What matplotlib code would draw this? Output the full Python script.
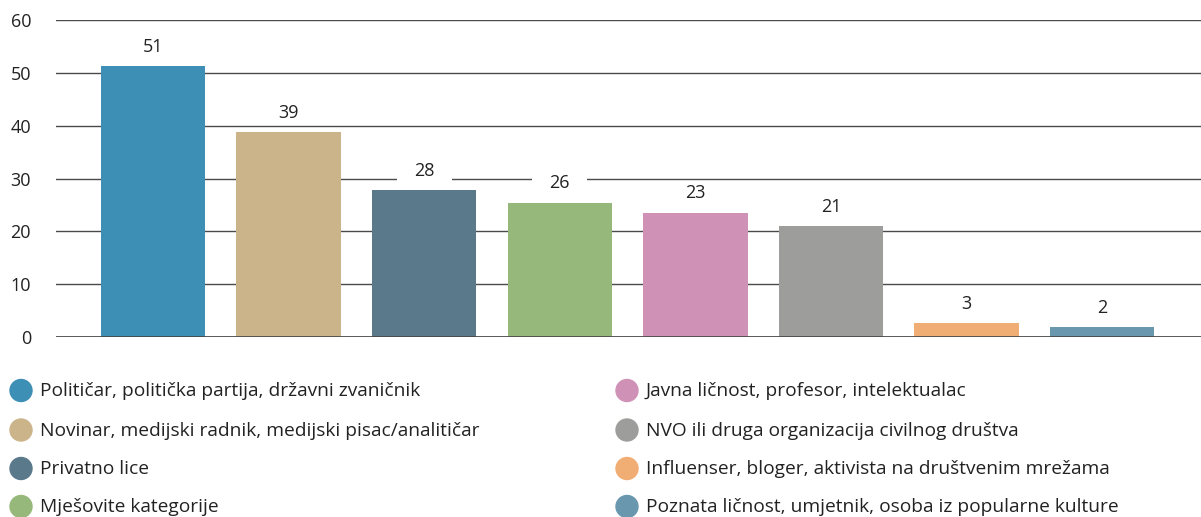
import matplotlib.pyplot as plt
from matplotlib.patches import Ellipse

plt.rcParams['font.family'] = ['Open Sans', 'DejaVu Sans']

categories = ['Političar, politička partija, državni zvaničnik',
              'Novinar, medijski radnik, medijski pisac/analitičar',
              'Privatno lice',
              'Mješovite kategorije',
              'Javna ličnost, profesor, intelektualac',
              'NVO ili druga organizacija civilnog društva',
              'Influenser, bloger, aktivista na društvenim mrežama',
              'Poznata ličnost, umjetnik, osoba iz popularne kulture']
values = [51.2, 38.8, 27.8, 25.4, 23.5, 21.0, 2.6, 1.9]
value_labels = ['51', '39', '28', '26', '23', '21', '3', '2']
colors = ['#3E8FB5', '#CBB38A', '#5A7A8C', '#97B87B',
          '#CF92B6', '#9D9D9B', '#F0AD74', '#6897AE']
yticks = [0, 10, 20, 30, 40, 50, 60]

W, H = 1201, 517
fig = plt.figure(figsize=(W / 100, H / 100), dpi=100)
ax = fig.add_axes([56 / W, 1 - 337 / H, 1 - 56 / W, (337 - 20) / H])
ax.set_axisbelow(True)

x = list(range(len(values)))
ax.bar(x, values, width=0.77, color=colors, zorder=2)
for xi, v, lab in zip(x, values, value_labels):
    ax.annotate(lab, (xi, v), xytext=(0, 14), textcoords='offset points',
                ha='center', va='center', fontsize=13, color='#222222', zorder=1.5,
                bbox=dict(boxstyle='square,pad=0.95', mutation_aspect=0.1,
                          fc='white', ec='none'))

ax.set_ylim(0, 60)
ax.set_xlim(-0.716, 7.73)
ax.set_yticks(yticks)
ax.set_xticks([])
ax.tick_params(axis='y', length=0, pad=18, labelsize=13, labelcolor='#222222')
ax.grid(axis='y', color='#4a4a4a', linewidth=1)
for s in ax.spines.values():
    s.set_visible(False)
ax.axhline(0, color='#444444', linewidth=1.2, zorder=3)

# legend, two columns of four
col_x = [21, 627]
row_y = [390.5, 430, 468.5, 506.5]
for i, (cat, c) in enumerate(zip(categories, colors)):
    cx = col_x[i // 4]
    cy = row_y[i % 4]
    fig.add_artist(Ellipse((cx / W, 1 - cy / H), 22 / W, 22 / H, color=c,
                           transform=fig.transFigure))
    fig.text((cx + 19) / W, 1 - (cy + 1) / H, cat, fontsize=13.8, color='#222222',
             va='center', ha='left')

fig.savefig('out.png', dpi=100)
